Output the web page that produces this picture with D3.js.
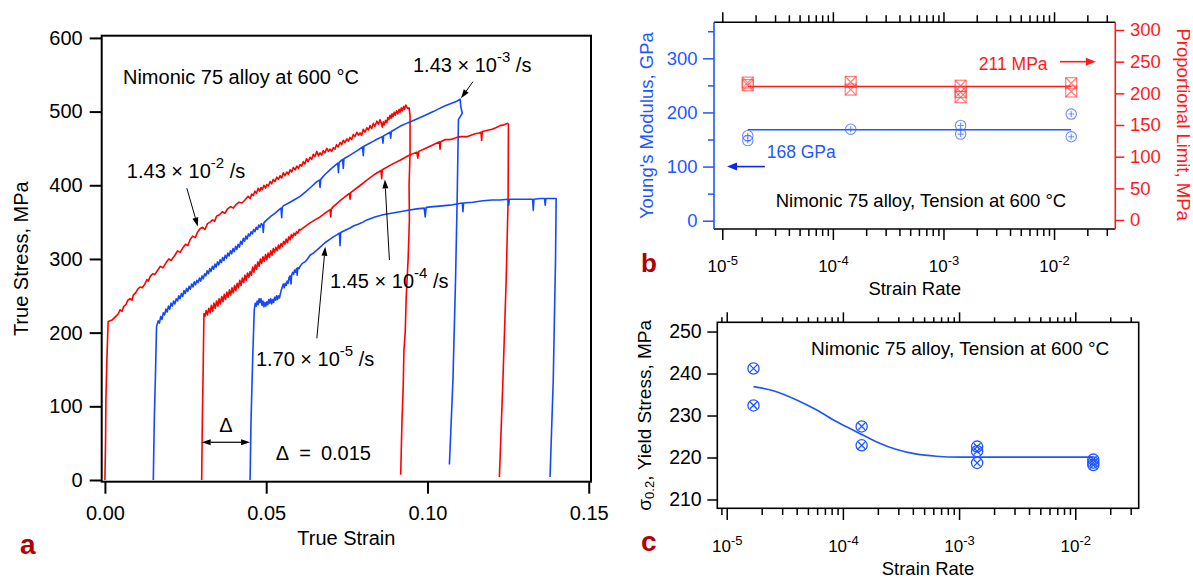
<!DOCTYPE html>
<html><head><meta charset="utf-8">
<script src="https://cdn.jsdelivr.net/npm/d3@7/dist/d3.min.js"></script>
<style>
html,body{margin:0;padding:0;background:#fff;}
svg{display:block;}
</style></head><body>
<svg id="fig" width="1193" height="578"></svg>
<script>
// ================= DATA =================
// ---- panel a: true stress-strain curves (strain offset by 0.015 each) ----
const strainTicks = [0, 0.05, 0.10, 0.15];
const stressTicks = [0, 100, 200, 300, 400, 500, 600];
const rateMantissas = ["1.43", "1.43", "1.45", "1.70"];
const rateExponents = ["-2", "-3", "-4", "-5"];

const curve_1_43e_2 = [
[0,0],[0.0002,54],[0.0003,109],[0.0006,163],[0.0010,215],
[0.0022,217],[0.0036,223],[0.0042,226],[0.0047,231],[0.0053,229],[0.0059,236],[0.0065,238],[0.0071,244],[0.0078,246],[0.0084,244],[0.0088,251],[0.0095,254],[0.0102,259],[0.0109,262],[0.0116,261],[0.0124,266],[0.0130,272],[0.0135,270],[0.0140,276],[0.0148,280],[0.0155,279],[0.0164,285],[0.0172,290],[0.0180,288],[0.0191,296],[0.0198,300],[0.0205,298],[0.0217,305],[0.0225,311],[0.0233,309],[0.0243,316],[0.0250,320],[0.0257,318],[0.0264,326],[0.0272,331],[0.0280,329],[0.0288,337],[0.0295,341],[0.0303,343],[0.0310,340],[0.0318,348],[0.0326,350],[0.0334,353],[0.0340,351],[0.0346,358],[0.0355,360],[0.0364,364],[0.0372,362],[0.0380,368],[0.0390,371],[0.0398,369],[0.0407,374],[0.0416,377],[0.0425,376],[0.0434,380],
[0.0444,385],[0.0450,382],[0.0455,388],[0.0460,386],[0.0465,392],[0.0470,389],[0.0475,396],[0.0480,392],[0.0484,397],[0.0488,394],[0.0493,400],[0.0498,396],[0.0502,401],[0.0507,399],[0.0512,405],[0.0517,402],[0.0522,408],[0.0527,405],[0.0533,411],[0.0538,408],[0.0543,413],[0.0548,410],[0.0553,417],[0.0558,413],[0.0564,418],[0.0569,415],[0.0574,421],[0.0579,418],[0.0584,424],[0.0590,421],[0.0595,426],[0.0600,423],[0.0605,428],[0.0610,426],[0.0615,432],[0.0620,429],[0.0625,436],[0.0630,432],[0.0636,438],[0.0641,435],[0.0646,442],[0.0651,439],[0.0657,446],[0.0662,440],[0.0667,444],[0.0672,441],[0.0677,447],[0.0682,444],[0.0688,450],[0.0693,446],[0.0698,449],[0.0703,446],[0.0708,451],[0.0713,449],[0.0718,455],[0.0723,452],[0.0729,458],[0.0734,455],[0.0739,461],[0.0744,458],[0.0750,463],[0.0755,460],[0.0760,465],[0.0765,462],[0.0770,469],[0.0775,466],[0.0781,472],[0.0786,468],[0.0791,471],[0.0796,468],[0.0801,476],[0.0806,472],[0.0812,478],[0.0817,475],[0.0822,481],[0.0827,477],[0.0832,484],[0.0837,480],[0.0843,487],[0.0848,483],[0.0853,489],[0.0857,484],[0.0860,479],[0.0863,486],[0.0866,482],[0.0870,488],[0.0874,485],[0.0877,492],[0.0880,489],[0.0884,495],[0.0887,491],[0.0890,497],[0.0893,493],[0.0897,499],[0.0900,495],[0.0904,501],[0.0908,497],[0.0912,503],[0.0915,499],[0.0919,505],[0.0922,501],[0.0926,507],[0.0929,503],[0.0933,509],[0.0936,506],[0.0940,504],[0.0943,505],
[0.0946,495],[0.0946,444],[0.0943,400],[0.0944,353],[0.0940,300],[0.0934,247],[0.0931,200],[0.0927,176],[0.0925,130],[0.0921,81],[0.0917,7]
];
const curve_1_43e_3 = [
[0.0150,0],[0.0153,81],[0.0157,149],[0.0160,208],
[0.0165,216],[0.0169,213],[0.0173,222],[0.0177,218],[0.0181,227],[0.0185,224],[0.0189,232],[0.0193,228],[0.0197,236],[0.0201,232],[0.0205,240],[0.0209,236],[0.0213,243],[0.0217,239],[0.0221,246],[0.0225,243],[0.0229,250],[0.0233,246],[0.0237,253],[0.0241,249],[0.0245,257],[0.0249,253],[0.0253,260],[0.0257,256],[0.0261,263],[0.0265,259],[0.0269,266],[0.0273,262],[0.0277,269],[0.0281,265],[0.0285,271],[0.0289,268],[0.0293,274],[0.0297,270],[0.0301,277],[0.0305,273],[0.0309,280],[0.0313,277],[0.0317,284],[0.0321,280],[0.0325,287],[0.0329,283],[0.0333,290],[0.0337,286],[0.0341,293],[0.0345,289],[0.0349,296],[0.0353,292],[0.0357,299],[0.0361,295],[0.0365,302],[0.0369,298],[0.0373,305],[0.0377,301],[0.0381,308],[0.0385,304],[0.0389,311],[0.0393,307],[0.0397,314],[0.0401,310],[0.0405,317],[0.0409,313],[0.0413,320],[0.0417,316],[0.0421,324],[0.0425,320],[0.0429,328],[0.0433,324],[0.0437,331],[0.0441,327],[0.0445,334],[0.0449,331],[0.0453,337],[0.0457,334],[0.0461,340],[0.0465,337],[0.0469,343],[0.0473,340],[0.0477,346],[0.0481,343],[0.0485,348],[0.0489,346],
[0.0491,336],[0.0493,349],[0.0497,351],[0.0502,353],[0.0515,358],[0.0527,362],[0.0540,367],[0.0546,369],[0.0548,356],[0.0550,370],[0.0553,372],[0.0574,377],[0.0590,381],[0.0605,385],[0.0622,391],[0.0640,398],[0.0657,405],[0.0665,407],[0.0667,397],[0.0669,408],[0.0683,415],[0.0700,422],[0.0708,425],[0.0722,430],[0.0724,417],[0.0726,431],[0.0737,435],[0.0739,423],[0.0741,436],[0.0760,441],[0.0786,448],[0.0799,452],[0.0801,440],[0.0803,453],[0.0812,455],[0.0837,461],[0.0860,466],[0.0862,457],[0.0864,467],[0.0884,472],[0.0886,464],[0.0888,473],[0.0915,480],[0.0940,485],[0.0967,490],[0.0993,495],[0.1018,500],[0.1036,504],[0.1055,508],[0.1073,511],[0.1091,514],[0.1101,517],[0.1104,505],[0.1108,498],[0.1096,489],[0.1092,380],[0.1087,271],[0.1079,136],[0.1068,21]
];
const curve_1_45e_4 = [
[0.0300,0],[0.0302,81],[0.0305,163],[0.0307,226],
[0.0310,222],[0.0314,230],[0.0318,224],[0.0322,233],[0.0326,227],[0.0330,237],[0.0334,229],[0.0338,240],[0.0342,233],[0.0346,243],[0.0350,236],[0.0354,246],[0.0358,239],[0.0362,249],[0.0366,242],[0.0370,252],[0.0374,245],[0.0378,255],[0.0382,248],[0.0386,258],[0.0390,251],[0.0394,261],[0.0398,254],[0.0402,264],[0.0406,257],[0.0410,267],[0.0414,261],[0.0418,271],[0.0422,264],[0.0426,274],[0.0430,268],[0.0434,278],[0.0438,271],[0.0442,281],[0.0446,275],[0.0450,283],[0.0454,278],[0.0458,289],[0.0462,282],[0.0466,292],[0.0470,286],[0.0474,296],[0.0478,290],[0.0482,300],[0.0486,294],[0.0490,303],[0.0494,297],[0.0498,306],[0.0502,299],[0.0506,308],[0.0510,302],[0.0514,311],[0.0518,305],[0.0522,314],[0.0526,309],[0.0530,316],[0.0534,311],[0.0538,319],[0.0542,314],[0.0546,321],[0.0550,317],[0.0554,324],[0.0558,320],[0.0562,327],[0.0566,322],[0.0570,330],[0.0574,326],[0.0578,333],[0.0582,329],[0.0586,335],[0.0590,332],[0.0594,337],[0.0598,335],[0.0602,340],[0.0605,339],
[0.0620,344],[0.0636,349],[0.0651,353],[0.0667,357],[0.0688,364],[0.0698,367],[0.0700,357],[0.0702,368],[0.0708,371],[0.0734,381],[0.0758,389],[0.0760,381],[0.0762,390],[0.0786,398],[0.0812,407],[0.0837,415],[0.0856,420],[0.0858,409],[0.0860,421],[0.0888,428],[0.0915,434],[0.0940,440],[0.0967,445],[0.0970,437],[0.0973,446],[0.0993,450],[0.1018,455],[0.1037,459],[0.1039,449],[0.1041,459],[0.1055,462],[0.1070,462],[0.1080,463],[0.1091,465],[0.1105,466],[0.1122,466],[0.1135,468],[0.1148,470],[0.1160,471],[0.1166,472],[0.1168,461],[0.1170,473],[0.1190,475],[0.1200,476],[0.1212,478],[0.1225,481],[0.1237,482],[0.1248,484],[0.1251,483],[0.1250,380],[0.1244,271],[0.1234,136],[0.1223,4]
];
const curve_1_70e_5 = [
[0.0450,0],[0.0453,81],[0.0458,163],[0.0463,231],
[0.0466,240],[0.0469,236],[0.0472,243],[0.0475,238],[0.0478,246],[0.0481,241],[0.0484,246],[0.0487,237],[0.0490,243],[0.0493,235],[0.0496,241],[0.0499,236],[0.0502,242],[0.0505,238],[0.0508,245],[0.0511,240],[0.0514,246],[0.0517,239],[0.0520,245],[0.0523,241],[0.0526,248],[0.0529,244],[0.0532,250],[0.0535,245],[0.0538,250],[0.0541,247],[0.0544,253],[0.0547,258],[0.0550,262],[0.0553,266],[0.0556,261],[0.0559,267],[0.0562,264],[0.0565,270],[0.0568,267],[0.0571,275],[0.0574,277],[0.0577,266],[0.0579,278],[0.0582,282],[0.0585,279],[0.0588,285],[0.0591,282],[0.0594,287],[0.0596,278],[0.0598,288],[0.0602,287],[0.0605,290],
[0.0612,294],[0.0620,296],[0.0628,300],[0.0636,305],[0.0646,308],[0.0657,312],[0.0670,317],[0.0682,322],[0.0695,326],[0.0708,330],[0.0720,333],[0.0727,335],[0.0729,318],[0.0731,336],[0.0745,339],[0.0760,342],[0.0772,345],[0.0785,347],[0.0800,350],[0.0812,353],[0.0837,357],[0.0862,360],[0.0888,362],[0.0915,364],[0.0940,366],[0.0967,368],[0.0990,369],[0.0993,357],[0.0996,370],[0.1018,371],[0.1045,372],[0.1070,373],[0.1095,375],[0.1108,376],[0.1110,364],[0.1112,376],[0.1140,377],[0.1173,379],[0.1200,380],[0.1225,380],[0.1250,381],[0.1252,373],[0.1254,381],[0.1277,381],[0.1300,381],[0.1326,381],[0.1328,366],[0.1330,381],[0.1350,382],[0.1363,382],[0.1365,373],[0.1367,382],[0.1396,382],[0.1399,382],[0.1397,299],[0.1390,136],[0.1380,4]
];

// ---- panel b: Young's modulus & proportional limit vs strain rate ----
const rateTicks = [1e-5, 1e-4, 1e-3, 1e-2];
const modulusTicks = [0, 100, 200, 300];
const modulusMinorTicks = [50, 150, 250, 350];
const propLimitTicks = [0, 50, 100, 150, 200, 250, 300];
const modulusRates  = [1.70e-5, 1.70e-5, 1.45e-4, 1.43e-3, 1.43e-3, 1.43e-2, 1.43e-2];
const modulusValues = [157, 148, 169, 176, 160, 197, 155];
const propLimitRates  = [1.70e-5, 1.70e-5, 1.45e-4, 1.45e-4, 1.43e-3, 1.43e-3, 1.43e-3, 1.43e-2, 1.43e-2];
const propLimitValues = [217, 213, 218, 206, 212, 202, 194, 216, 203];
const meanRateSpan = [1.70e-5, 1.43e-2];
const modulusMean = 168;     // GPa
const propLimitMean = 211;   // MPa

// ---- panel c: 0.2% yield stress vs strain rate ----
const yieldTicks = [210, 220, 230, 240, 250];
const yieldRates  = [1.70e-5, 1.70e-5, 1.45e-4, 1.45e-4, 1.43e-3, 1.43e-3, 1.43e-3, 1.43e-2, 1.43e-2, 1.43e-2];
const yieldValues = [241.2, 232.4, 227.4, 222.9, 222.6, 221.5, 218.7, 219.5, 218.8, 218.2];
const fitRates  = [1.70e-5, 2.52e-5, 4.0e-5, 5.96e-5, 8.85e-5, 1.315e-4, 1.954e-4, 2.90e-4, 4.31e-4, 6.37e-4, 1.0e-3, 1.43e-2];
const fitValues = [236.9, 235.9, 233.7, 231.3, 228.5, 226.1, 223.7, 221.9, 220.8, 220.3, 220.1, 220.1];

// ================= STYLE =================
const FONT = "'Liberation Sans', Arial, Helvetica, sans-serif";
const RED = "#ff0000", BLUE = "#1447ff", BLK = "#000";
const B_BLUE = "#1f57ff", B_RED = "#ff1a1a", PANEL = "#b30000";
const C_BLUE = "#1f55ff";

const svg = d3.select("#fig").attr("font-family", FONT);

function styleAxis(g, color, sw, fs) {
  g.attr("font-family", FONT).attr("font-size", fs);
  g.select(".domain").remove();
  g.selectAll(".tick line").attr("stroke", color).attr("stroke-width", sw);
  g.selectAll(".tick text").attr("fill", color);
}
function arrowHead(g, x1, y1, x2, y2, color, hl, hw) {
  const a = Math.atan2(y2 - y1, x2 - x1), c = Math.cos(a), s = Math.sin(a);
  const bx = x2 - hl * c, by = y2 - hl * s;
  g.append("path")
    .attr("d", `M${x2},${y2}L${bx - hw/2*s},${by + hw/2*c}L${bx + hw/2*s},${by - hw/2*c}Z`)
    .attr("fill", color);
  return [bx, by];
}
function arrow(g, x1, y1, x2, y2, color, sw, hl, hw, both) {
  const [bx, by] = arrowHead(g, x1, y1, x2, y2, color, hl, hw);
  let sx = x1, sy = y1;
  if (both) { [sx, sy] = arrowHead(g, x2, y2, x1, y1, color, hl, hw); }
  g.append("line").attr("x1", sx).attr("y1", sy).attr("x2", bx).attr("y2", by)
    .attr("stroke", color).attr("stroke-width", sw);
}
function rateText(g, x, y, mant, exp, color) {
  const t = g.append("text").attr("x", x).attr("y", y).attr("font-size", 20).attr("fill", color);
  t.append("tspan").text(mant + " \u00d7 10");
  t.append("tspan").attr("dy", -10).attr("font-size", 15).text(exp);
  t.append("tspan").attr("dy", 10).text(" /s");
}
function minorLogTicks(scale) {
  const [lo, hi] = scale.domain(), out = [];
  for (let e = Math.floor(Math.log10(lo)); e <= Math.ceil(Math.log10(hi)); e++)
    for (let m = 2; m <= 9; m++) {
      const v = m * Math.pow(10, e);
      if (v > lo && v < hi && Math.abs(scale(v) - scale.range()[0]) > 4 && Math.abs(scale(v) - scale.range()[1]) > 4) out.push(v);
    }
  return out;
}
function logLabels(g, fs, supfs) {
  g.selectAll(".tick text").each(function(d) {
    const t = d3.select(this).text(null).attr("font-size", fs);
    t.append("tspan").text("10");
    t.append("tspan").attr("dy", -7).attr("font-size", supfs).text(String(Math.round(Math.log10(d))));
  });
}

// ================= PANEL a =================
const xA = d3.scaleLinear().domain([-0.001, 0.1507]).range([101.7, 591]);
const yA = d3.scaleLinear().domain([-2.3, 603]).range([481.7, 35.7]);
const gA = svg.append("g");
const lineA = d3.line().x(d => xA(d[0])).y(d => yA(d[1]));
const curvesA = [curve_1_43e_2, curve_1_43e_3, curve_1_45e_4, curve_1_70e_5];
const colorsA = [RED, BLUE, RED, BLUE];
curvesA.forEach((c, i) => {
  gA.append("path").attr("d", lineA(c)).attr("fill", "none")
    .attr("stroke", colorsA[i]).attr("stroke-width", 1.6).attr("stroke-linejoin", "round");
});
gA.append("rect").attr("x", xA.range()[0]).attr("y", yA.range()[1])
  .attr("width", xA.range()[1] - xA.range()[0]).attr("height", yA.range()[0] - yA.range()[1])
  .attr("fill", "none").attr("stroke", BLK).attr("stroke-width", 2);
gA.append("g").attr("transform", `translate(${xA.range()[0]},0)`)
  .call(d3.axisLeft(yA).tickValues(stressTicks).tickSize(12).tickSizeOuter(0).tickPadding(7))
  .call(g => styleAxis(g, BLK, 2, 20));
gA.append("g").attr("transform", `translate(0,${yA.range()[0]})`)
  .call(d3.axisBottom(xA).tickValues(strainTicks).tickFormat(d3.format(".2f")).tickSize(12).tickSizeOuter(0).tickPadding(12))
  .call(g => styleAxis(g, BLK, 2, 20));
gA.append("text").attr("transform", `translate(28,${(yA.range()[0] + yA.range()[1]) / 2}) rotate(-90)`)
  .attr("text-anchor", "middle").attr("font-size", 20).text("True Stress, MPa");
gA.append("text").attr("x", (xA.range()[0] + xA.range()[1]) / 2).attr("y", 545)
  .attr("text-anchor", "middle").attr("font-size", 20).text("True Strain");
gA.append("text").attr("x", 20).attr("y", 554).attr("font-size", 28).attr("font-weight", "bold")
  .attr("fill", PANEL).text("a");
gA.append("text").attr("x", xA(0.0056)).attr("y", yA(537)).attr("font-size", 20)
  .text("Nimonic 75 alloy at 600 \u00b0C");
// rate labels + arrows (positions in data units)
const labelPos = [[0.0068, 409.5], [0.0955, 554], [0.0698, 260.6], [0.0468, 154.7]];
const arrowPos = [
  [[0.0254, 396], [0.0288, 344]],
  [[0.1141, 540.6], [0.1104, 518]],
  [[0.0882, 298.6], [0.0868, 408]],
  [[0.0657, 192.3], [0.0683, 316.6]]
];
labelPos.forEach((p, i) => {
  rateText(gA, xA(p[0]), yA(p[1]), rateMantissas[i], rateExponents[i], BLK);
  const [a, b] = arrowPos[i];
  arrow(gA, xA(a[0]), yA(a[1]), xA(b[0]), yA(b[1]), BLK, 1, 9, 6, false);
});
arrow(gA, xA(0.0300), yA(51.2), xA(0.0450), yA(51.2), BLK, 1.2, 9, 6, true);
gA.append("text").attr("x", xA(0.0375)).attr("y", yA(65.6)).attr("text-anchor", "middle")
  .attr("font-size", 20).text("\u0394");
gA.append("text").attr("x", xA(0.0530)).attr("y", yA(27.1)).attr("font-size", 20)
  .text("\u0394\u2002=\u20020.015");

// ================= PANEL b =================
const xB = d3.scaleLog().domain([Math.pow(10, -5.075), Math.pow(10, -1.446)]).range([714, 1115.3]);
const yBL = d3.scaleLinear().domain([-15.3, 366.5]).range([229, 22.3]);
const yBR = d3.scaleLinear().domain([-14.2, 312.2]).range([229, 22.3]);
const gB = svg.append("g");
const [bx0, bx1] = xB.range(), [by0, by1] = yBL.range();
gB.append("path").attr("d", d3.line().x(d => xB(d)).y(() => yBR(propLimitMean))(meanRateSpan))
  .attr("stroke", B_RED).attr("stroke-width", 1.5).attr("fill", "none");
gB.append("path").attr("d", d3.line().x(d => xB(d)).y(() => yBL(modulusMean))(meanRateSpan))
  .attr("stroke", B_BLUE).attr("stroke-width", 1.5).attr("fill", "none");
propLimitRates.forEach((r, i) => {
  const cx = xB(r), cy = yBR(propLimitValues[i]), h = 5.5;
  const m = gB.append("g").attr("stroke", "#ff3b3b").attr("stroke-opacity", 0.65).attr("stroke-width", 1.2).attr("fill", "none");
  m.append("rect").attr("x", cx - h).attr("y", cy - h).attr("width", 2 * h).attr("height", 2 * h);
  m.append("path").attr("d", `M${cx - h},${cy - h}L${cx + h},${cy + h}M${cx - h},${cy + h}L${cx + h},${cy - h}`);
});
modulusRates.forEach((r, i) => {
  const cx = xB(r), cy = yBL(modulusValues[i]);
  const m = gB.append("g").attr("stroke", "#3a66ff").attr("stroke-opacity", 0.75).attr("stroke-width", 1.1).attr("fill", "none");
  m.append("circle").attr("cx", cx).attr("cy", cy).attr("r", 5.2);
  m.append("path").attr("d", `M${cx - 3},${cy}L${cx + 3},${cy}M${cx},${cy - 3}L${cx},${cy + 3}`);
});
gB.append("line").attr("x1", bx0).attr("x2", bx1).attr("y1", by1).attr("y2", by1).attr("stroke", BLK).attr("stroke-width", 1.6);
gB.append("line").attr("x1", bx0).attr("x2", bx1).attr("y1", by0).attr("y2", by0).attr("stroke", BLK).attr("stroke-width", 1.6);
gB.append("line").attr("x1", bx0).attr("x2", bx0).attr("y1", by0).attr("y2", by1).attr("stroke", B_BLUE).attr("stroke-width", 1.6);
gB.append("line").attr("x1", bx1).attr("x2", bx1).attr("y1", by0).attr("y2", by1).attr("stroke", B_RED).attr("stroke-width", 1.6);
const minorB = minorLogTicks(xB);
gB.append("g").attr("transform", `translate(0,${by0})`)
  .call(d3.axisBottom(xB).tickValues(rateTicks).tickFormat(() => "").tickSize(11).tickSizeOuter(0).tickPadding(19.6))
  .call(g => styleAxis(g, BLK, 1.5, 17)).call(g => logLabels(g, 17, 13));
gB.append("g").attr("transform", `translate(0,${by0})`)
  .call(d3.axisBottom(xB).tickValues(minorB).tickFormat(() => "").tickSize(7).tickSizeOuter(0))
  .call(g => styleAxis(g, BLK, 1.5, 17));
gB.append("g").attr("transform", `translate(0,${by1})`)
  .call(d3.axisTop(xB).tickValues(rateTicks).tickFormat(() => "").tickSize(10).tickSizeOuter(0))
  .call(g => styleAxis(g, BLK, 1.5, 17));
gB.append("g").attr("transform", `translate(0,${by1})`)
  .call(d3.axisTop(xB).tickValues(minorB).tickFormat(() => "").tickSize(7).tickSizeOuter(0))
  .call(g => styleAxis(g, BLK, 1.5, 17));
gB.append("g").attr("transform", `translate(${bx0},0)`)
  .call(d3.axisLeft(yBL).tickValues(modulusTicks).tickSize(11).tickSizeOuter(0).tickPadding(5.4))
  .call(g => styleAxis(g, B_BLUE, 1.5, 18.5));
gB.append("g").attr("transform", `translate(${bx0},0)`)
  .call(d3.axisLeft(yBL).tickValues(modulusMinorTicks).tickFormat(() => "").tickSize(6).tickSizeOuter(0))
  .call(g => styleAxis(g, B_BLUE, 1.5, 18.5));
gB.append("g").attr("transform", `translate(${bx1},0)`)
  .call(d3.axisRight(yBR).tickValues(propLimitTicks).tickSize(9).tickSizeOuter(0).tickPadding(5.6))
  .call(g => styleAxis(g, B_RED, 1.5, 18.5));
gB.append("text").attr("transform", `translate(653,${(by0 + by1) / 2}) rotate(-90)`)
  .attr("text-anchor", "middle").attr("font-size", 18.5).attr("fill", B_BLUE).text("Young's Modulus, GPa");
gB.append("text").attr("transform", `translate(1176.5,${(by0 + by1) / 2 - 1}) rotate(90)`)
  .attr("text-anchor", "middle").attr("font-size", 18.5).attr("fill", B_RED).text("Proportional Limit, MPa");
gB.append("text").attr("x", (bx0 + bx1) / 2).attr("y", 295).attr("text-anchor", "middle")
  .attr("font-size", 18.5).text("Strain Rate");
gB.append("text").attr("x", 641).attr("y", 271.7).attr("font-size", 26).attr("font-weight", "bold")
  .attr("fill", PANEL).text("b");
gB.append("text").attr("x", xB(2.52e-5)).attr("y", yBL(115.3)).attr("font-size", 17.5)
  .attr("fill", B_BLUE).text(modulusMean + " GPa");
arrow(gB, xB(2.43e-5), yBL(100), xB(1.103e-5), yBL(100), "#0a2ae6", 1.6, 10, 8, false);
gB.append("text").attr("x", xB(2.09e-3)).attr("y", yBR(236.9)).attr("font-size", 17.5)
  .attr("fill", B_RED).text(propLimitMean + " MPa");
arrow(gB, xB(1.13e-2), yBR(250), xB(2.39e-2), yBR(250), B_RED, 1.6, 10, 8, false);
gB.append("text").attr("x", xB(3.04e-5)).attr("y", yBL(25.9)).attr("font-size", 18.5)
  .text("Nimonic 75 alloy, Tension at 600 \u00b0C");

// ================= PANEL c =================
const xC = d3.scaleLog().domain([Math.pow(10, -5.081), Math.pow(10, -1.454)]).range([717.3, 1138.7]);
const yC = d3.scaleLinear().domain([207.9, 252.2]).range([508.3, 322.3]);
const gC = svg.append("g");
const [cx0, cx1] = xC.range(), [cy0, cy1] = yC.range();
gC.append("path").datum(fitRates.map((r, i) => [r, fitValues[i]]))
  .attr("d", d3.line().x(d => xC(d[0])).y(d => yC(d[1])).curve(d3.curveMonotoneX))
  .attr("fill", "none").attr("stroke", C_BLUE).attr("stroke-width", 1.7);
yieldRates.forEach((r, i) => {
  const cx = xC(r), cy = yC(yieldValues[i]), k = 3.4;
  const m = gC.append("g").attr("stroke", C_BLUE).attr("stroke-width", 1.3).attr("fill", "none");
  m.append("circle").attr("cx", cx).attr("cy", cy).attr("r", 5.6);
  m.append("path").attr("d", `M${cx - k},${cy - k}L${cx + k},${cy + k}M${cx - k},${cy + k}L${cx + k},${cy - k}`);
});
gC.append("rect").attr("x", cx0).attr("y", cy1).attr("width", cx1 - cx0).attr("height", cy0 - cy1)
  .attr("fill", "none").attr("stroke", BLK).attr("stroke-width", 1.6);
const minorC = minorLogTicks(xC);
gC.append("g").attr("transform", `translate(0,${cy0})`)
  .call(d3.axisBottom(xC).tickValues(rateTicks).tickFormat(() => "").tickSize(11.7).tickSizeOuter(0).tickPadding(19.6))
  .call(g => styleAxis(g, BLK, 1.5, 17)).call(g => logLabels(g, 17, 13));
gC.append("g").attr("transform", `translate(0,${cy0})`)
  .call(d3.axisBottom(xC).tickValues(minorC).tickFormat(() => "").tickSize(6.7).tickSizeOuter(0))
  .call(g => styleAxis(g, BLK, 1.5, 17));
gC.append("g").attr("transform", `translate(0,${cy1})`)
  .call(d3.axisTop(xC).tickValues(rateTicks).tickFormat(() => "").tickSize(10).tickSizeOuter(0))
  .call(g => styleAxis(g, BLK, 1.5, 17));
gC.append("g").attr("transform", `translate(0,${cy1})`)
  .call(d3.axisTop(xC).tickValues(minorC).tickFormat(() => "").tickSize(5).tickSizeOuter(0))
  .call(g => styleAxis(g, BLK, 1.5, 17));
gC.append("g").attr("transform", `translate(${cx0},0)`)
  .call(d3.axisLeft(yC).tickValues(yieldTicks).tickSize(10).tickSizeOuter(0).tickPadding(5.6))
  .call(g => styleAxis(g, BLK, 1.5, 19.5));
const tC = gC.append("text").attr("transform", `translate(651,${(cy0 + cy1) / 2}) rotate(-90)`)
  .attr("text-anchor", "middle").attr("font-size", 19);
tC.append("tspan").text("\u03c3");
tC.append("tspan").attr("dy", 3).attr("font-size", 13).text("0.2");
tC.append("tspan").attr("dy", -3).text(", Yield Stress, MPa");
gC.append("text").attr("x", (cx0 + cx1) / 2).attr("y", 575).attr("text-anchor", "middle")
  .attr("font-size", 18.5).text("Strain Rate");
gC.append("text").attr("x", 641).attr("y", 550.7).attr("font-size", 28).attr("font-weight", "bold")
  .attr("fill", PANEL).text("c");
gC.append("text").attr("x", xC(5.31e-5)).attr("y", yC(244.4)).attr("font-size", 19)
  .text("Nimonic 75 alloy, Tension at 600 \u00b0C");
</script>
</body></html>
